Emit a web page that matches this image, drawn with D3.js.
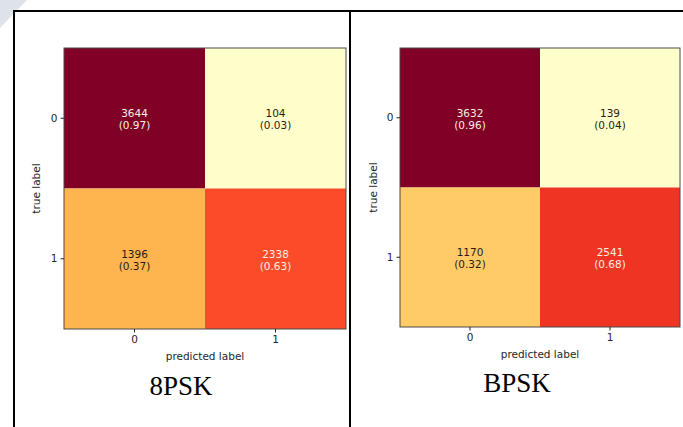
<!DOCTYPE html>
<html>
<head>
<meta charset="utf-8">
<script src="https://cdn.jsdelivr.net/npm/d3@7"></script>
<style>
  body { margin: 0; background: #fff; }
  svg { display: block; }
  .tick text { font-family: "DejaVu Sans", sans-serif; font-size: 10.5px; fill: #262626; }
  .tick line { stroke: #262626; }
</style>
</head>
<body>
<svg id="chart" width="683" height="427"></svg>
<script>
// data
var classes = ["0", "1"];
var titles = ["8PSK", "BPSK"];
var counts8psk = [[3644, 104], [1396, 2338]];
var ratios8psk = [[0.97, 0.03], [0.37, 0.63]];
var countsBpsk = [[3632, 139], [1170, 2541]];
var ratiosBpsk = [[0.96, 0.04], [0.32, 0.68]];

// matplotlib YlOrRd
var ylorrd = ["#ffffcc", "#ffeda0", "#fed976", "#feb24c", "#fd8d3c", "#fc4e2a", "#e31a1c", "#bd0026", "#800026"];
var cmap = d3.piecewise(d3.interpolateRgb, ylorrd);

var svg = d3.select("#chart");

// corner decoration
svg.append("path")
  .attr("d", "M0,0 L27,0 L0,28 Z")
  .attr("fill", "#dde3e8");

// frame lines
var frame = svg.append("g").attr("stroke", "#000").attr("stroke-width", 2);
frame.append("line").attr("x1", 13).attr("x2", 683).attr("y1", 11).attr("y2", 11);
frame.append("line").attr("x1", 14).attr("x2", 14).attr("y1", 10).attr("y2", 427);
frame.append("line").attr("x1", 350).attr("x2", 350).attr("y1", 10).attr("y2", 427);

var panels = [
  { title: titles[0], counts: counts8psk, ratios: ratios8psk, x0: 64, x1: 346, y0: 48, y1: 329, ylab: 40, tx: 181, ty: 395 },
  { title: titles[1], counts: countsBpsk, ratios: ratiosBpsk, x0: 400, x1: 680, y0: 48, y1: 327, ylab: 377, tx: 517, ty: 392 }
];

panels.forEach(function(p) {
  var x = d3.scaleBand().domain(classes).range([p.x0, p.x1]);
  var y = d3.scaleBand().domain(classes).range([p.y0, p.y1]);
  var flat = [];
  p.counts.forEach(function(row, i) {
    row.forEach(function(v, j) {
      flat.push({ t: classes[i], pr: classes[j], v: v, r: p.ratios[i][j] });
    });
  });
  var vmin = d3.min(flat, function(d) { return d.v; });
  var vmax = d3.max(flat, function(d) { return d.v; });
  var color = d3.scaleLinear().domain([vmin, vmax]).range([0, 1]);
  var thresh = (vmin + vmax) / 2;

  var g = svg.append("g");
  g.selectAll("rect.cell")
    .data(flat)
    .enter()
    .append("rect")
    .attr("class", "cell")
    .attr("x", function(d) { return x(d.pr); })
    .attr("y", function(d) { return y(d.t); })
    .attr("width", x.bandwidth())
    .attr("height", y.bandwidth())
    .attr("fill", function(d) { return cmap(color(d.v)); });

  g.append("rect")
    .attr("x", p.x0).attr("y", p.y0)
    .attr("width", p.x1 - p.x0).attr("height", p.y1 - p.y0)
    .attr("fill", "none").attr("stroke", "#4a4a4a").attr("stroke-width", 1);

  var txt = g.selectAll("text.val")
    .data(flat)
    .enter()
    .append("text")
    .attr("class", "val")
    .attr("text-anchor", "middle")
    .attr("font-family", "DejaVu Sans, sans-serif")
    .attr("font-size", 10.5)
    .attr("fill", function(d) { return d.v < thresh ? "#2b1a1a" : "#f5efe0"; });
  txt.append("tspan")
    .attr("x", function(d) { return x(d.pr) + x.bandwidth() / 2; })
    .attr("y", function(d) { return y(d.t) + y.bandwidth() / 2 - 1; })
    .text(function(d) { return d.v; });
  txt.append("tspan")
    .attr("x", function(d) { return x(d.pr) + x.bandwidth() / 2; })
    .attr("y", function(d) { return y(d.t) + y.bandwidth() / 2 + 11; })
    .text(function(d) { return "(" + d3.format(".2f")(d.r) + ")"; });

  g.append("g")
    .attr("transform", "translate(" + p.x0 + ",0)")
    .call(d3.axisLeft(y).tickSize(3.5).tickPadding(3))
    .call(function(a) { a.select(".domain").remove(); });
  g.append("g")
    .attr("transform", "translate(0," + p.y1 + ")")
    .call(d3.axisBottom(x).tickSize(3.5).tickPadding(3))
    .call(function(a) { a.select(".domain").remove(); });

  g.append("text")
    .attr("x", (p.x0 + p.x1) / 2)
    .attr("y", p.y1 + 31)
    .attr("text-anchor", "middle")
    .attr("font-family", "DejaVu Sans, sans-serif")
    .attr("font-size", 10.5)
    .attr("fill", "#262626")
    .text("predicted label");

  g.append("text")
    .attr("transform", "translate(" + p.ylab + "," + (p.y0 + p.y1) / 2 + ") rotate(-90)")
    .attr("text-anchor", "middle")
    .attr("font-family", "DejaVu Sans, sans-serif")
    .attr("font-size", 10.5)
    .attr("fill", "#262626")
    .text("true label");

  g.append("text")
    .attr("x", p.tx)
    .attr("y", p.ty)
    .attr("text-anchor", "middle")
    .attr("font-family", "Liberation Serif, Times New Roman, serif")
    .attr("font-size", 27)
    .attr("fill", "#000")
    .text(p.title);
});
</script>
</body>
</html>
